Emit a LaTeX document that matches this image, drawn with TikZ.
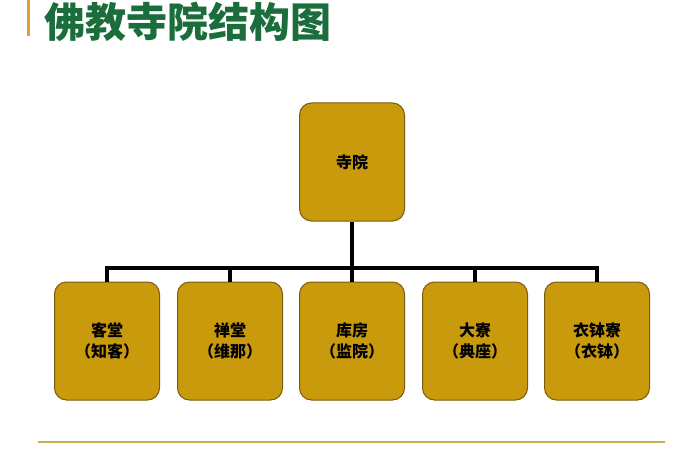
\documentclass[tikz,border=0pt]{standalone}
\usepackage{fontspec}
\newfontfamily\cjk{Noto Sans CJK SC}
\definecolor{boxfill}{HTML}{C99A0B}
\definecolor{boxline}{HTML}{7A5C10}
\definecolor{titlegreen}{HTML}{1B6E3C}
\definecolor{barorange}{HTML}{E0A030}
\definecolor{rulegold}{HTML}{C8B050}
\begin{document}
\begin{tikzpicture}[x=1pt,y=-1pt,
  unit/.style={draw=boxline,line width=1pt,fill=boxfill,rounded corners=12pt,
    minimum width=105pt,minimum height=118pt,inner sep=0pt,align=center,
    font=\cjk\bfseries\fontsize{16}{21}\selectfont},
  link/.style={line width=3.5pt,black}]
\useasboundingbox (0,0) rectangle (700,470);
\fill[barorange] (27,0) rectangle (29.5,36);
\node[anchor=west,text=titlegreen,font=\cjk\bfseries\fontsize{41}{44}\selectfont,inner sep=0pt] (title) at (44,22) {佛教寺院结构图};
\node[unit] (top) at (352,162) {寺院};
\node[unit] (a) at (107,341) {客堂\\（知客）};
\node[unit] (b) at (230,341) {禅堂\\（维那）};
\node[unit] (c) at (352,341) {库房\\（监院）};
\node[unit] (d) at (475,341) {大寮\\（典座）};
\node[unit] (e) at (597,341) {衣钵寮\\（衣钵）};
\coordinate (j) at (352,268);
\draw[link] (top.south) -- (j);
\draw[link] (a.north) -- (a.north |- j) -- (e.north |- j) -- (e.north);
\foreach \n in {b,c,d} \draw[link] (\n.north |- j) -- (\n.north);
\draw[rulegold,line width=1.2pt] (38,442) -- (665,442);
\end{tikzpicture}
\end{document}
